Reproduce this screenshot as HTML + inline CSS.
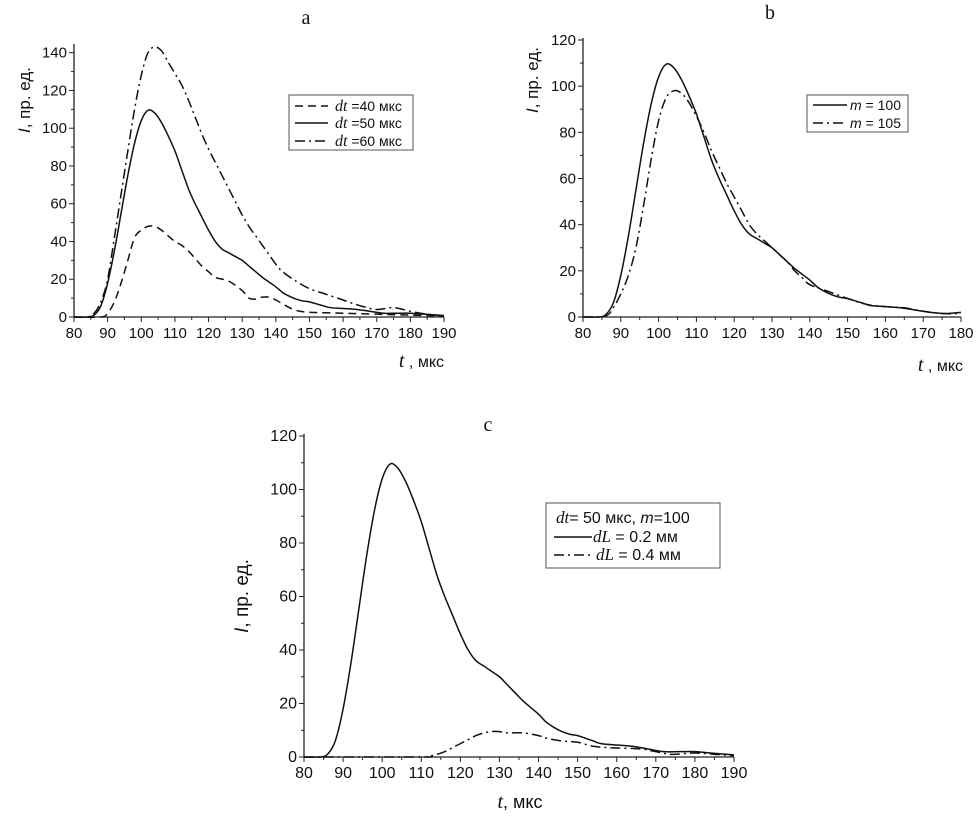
<!DOCTYPE html>
<html><head><meta charset="utf-8"><style>
body{margin:0;background:#fff;}
svg text{font-family:"Liberation Sans",Arial,sans-serif;fill:#111;}
.serif{font-family:"Liberation Serif",serif !important;}
</style></head><body>
<svg id="fig" width="978" height="817" viewBox="0 0 978 817" xmlns="http://www.w3.org/2000/svg"></svg>
<script>
// ---- data ----
const tDt50=[80,84,86,88,90,92,94,96,98,100,102,104,106,108,110,112,114,116,118,120,122,124,126,128,130,132,134,136,138,140,142,144,146,148,150,152,154,156,160,164,168,172,176,180,184,190];
const vDt50=[0,0,1,6,18,35,55,75,92,104,109.5,108,103,96,88,78,68,60,53,46,40,36,34,32,30,27,24,21,18.5,16,13,11,9.5,8.5,8,7,6,5,4.5,4,3,2,2,2,1.5,0.8];
const tDt60=[80,84,86,88,90,92,94,96,98,100,102,104,106,108,110,112,114,116,118,120,122,124,126,128,130,132,134,136,138,140,142,146,150,155,160,165,170,175,180,185,190];
const vDt60=[0,0,2,8,20,42,65,88,110,128,140,143,141,135,129,123,115,106,97,89,82,75,68,61,54,48,43,38,33,28,24,19,15,12,9,6,4,5,3,1.5,0.5];
const tDt40=[80,88,90,92,94,96,98,100,102,104,106,108,110,112,114,116,118,120,122,126,130,132,134,136,138,140,142,144,146,150,160,170,180,190];
const vDt40=[0,0,2,8,18,30,42,46,48,48,46,43,40,38,35,31,27,24,21,19,14,10,9.5,10.5,10.5,9,7,5,3.5,2.5,2,1.5,1,0.5];
const tM100=[80,84,86,88,90,92,94,96,98,100,102,104,106,108,110,112,114,116,118,120,122,124,126,128,130,132,134,136,138,140,142,144,146,148,150,152,154,156,160,164,168,172,176,180];
const vM100=[0,0,1,6,18,35,55,75,92,104,109.5,108,103,96,88,78,68,60,53,46,40,36,34,32,30,27,24,21,18.5,16,13,11,9.5,8.5,8,7,6,5,4.5,4,3,2,1.5,2];
const tM105=[80,86,88,90,92,94,96,98,100,102,104,106,108,110,112,114,116,118,120,122,124,126,128,130,132,134,136,138,140,145,150,155,160,165,170,175,180];
const vM105=[0,0.5,4,10,18,30,48,68,85,95,98,97,93,87,80,72,65,58,52,46,40,36,33,30,27,24,20,17,14,11,8,5.5,4.5,4,2.5,1.5,1.5];
const tDL4=[80,110,112,114,116,118,120,122,124,126,128,130,132,136,140,142,146,150,154,158,166,170,174,180,185,190];
const vDL4=[0,0,0.3,1,2,3.5,5,6.5,8,9,9.5,9.5,9,9,8,7,6,5.5,4,3.5,3,2,1,1.5,1,0.5];
const xTicksA=[80,90,100,110,120,130,140,150,160,170,180,190];
const yTicksA=[0,20,40,60,80,100,120,140];
const xTicksB=[80,90,100,110,120,130,140,150,160,170,180];
const yTicksB=[0,20,40,60,80,100,120];

const NS="http://www.w3.org/2000/svg";
const svg=document.getElementById('fig');
function mk(tag,attrs,parent){const e=document.createElementNS(NS,tag);for(const k in attrs)e.setAttribute(k,attrs[k]);(parent||svg).appendChild(e);return e;}
function smooth(pts){let d=`M${pts[0][0]},${pts[0][1]}`;for(let i=0;i<pts.length-1;i++){const p0=pts[i-1]||pts[i],p1=pts[i],p2=pts[i+1],p3=pts[i+2]||p2;
const c1=[p1[0]+(p2[0]-p0[0])/6,p1[1]+(p2[1]-p0[1])/6],c2=[p2[0]-(p3[0]-p1[0])/6,p2[1]-(p3[1]-p1[1])/6];d+=`C${c1[0]},${c1[1]} ${c2[0]},${c2[1]} ${p2[0]},${p2[1]}`;}return d;}
function panel(cfg){
  const g=mk('g',{});
  
  
  const X=v=>cfg.x0+(v-cfg.xmin)/(cfg.xmax-cfg.xmin)*(cfg.x1-cfg.x0);
  const Y=v=>cfg.y0-(v-cfg.ymin)/(cfg.ymax-cfg.ymin)*(cfg.y0-cfg.y1);
  const ax=mk('path',{d:`M${cfg.x0},${cfg.ytop}V${cfg.y0}H${cfg.x1}`,stroke:'#222','stroke-width':1.3,fill:'none'},g);
  
  
  const step=cfg.xt[1]-cfg.xt[0];
  for(let v=cfg.xmin;v<=cfg.xmax+0.01;v+=step/2){const maj=Math.abs((v-cfg.xmin)%step)<0.01;mk('line',{x1:X(v),x2:X(v),y1:cfg.y0,y2:cfg.y0+(maj?5:3),stroke:'#222'},g);}
  cfg.xt.forEach(v=>{const t=mk('text',{x:X(v),y:cfg.y0+21,'text-anchor':'middle','font-size':cfg.fs},g);t.textContent=v;
    
    });
  const ys=cfg.yt[1]-cfg.yt[0];
  for(let v=cfg.ymin;v<=cfg.ymax+0.01;v+=ys/2){const maj=Math.abs(v%ys)<0.01;mk('line',{x1:cfg.x0,x2:cfg.x0-(maj?5:3),y1:Y(v),y2:Y(v),stroke:'#222'},g);}
  cfg.yt.forEach(v=>{const t=mk('text',{x:cfg.x0-7,y:Y(v)+5,'text-anchor':'end','font-size':cfg.fs},g);t.textContent=v;
    
    });
  cfg.series.forEach(s=>{const pts=s.t.map((t,i)=>[X(t),Y(s.v[i])]);
    const p=mk('path',{d:smooth(pts),fill:'none',stroke:'#111','stroke-width':1.5,'stroke-dasharray':s.dash||'none'},g);
    
    });
}
panel({name:'panel-a',x0:74,x1:444,y0:317,y1:52.7,ytop:44,xmin:80,xmax:190,ymin:0,ymax:140,xt:xTicksA,yt:yTicksA,fs:15,
 series:[{t:tDt40,v:vDt40,dash:'8,5',name:'line-dt40'},{t:tDt50,v:vDt50,name:'line-dt50'},{t:tDt60,v:vDt60,dash:'10,4,2,4',name:'line-dt60'}]});
panel({name:'panel-b',x0:583,x1:961,y0:317,y1:40,ytop:38,xmin:80,xmax:180,ymin:0,ymax:120,xt:xTicksB,yt:yTicksB,fs:15,
 series:[{t:tM100,v:vM100,name:'line-m100'},{t:tM105,v:vM105,dash:'10,4,2,4',name:'line-m105'}]});
panel({name:'panel-c',x0:304,x1:734,y0:757,y1:436,ytop:434,xmin:80,xmax:190,ymin:0,ymax:120,xt:xTicksA,yt:yTicksB,fs:16,
 series:[{t:tDt50,v:vDt50,name:'line-dL02'},{t:tDL4,v:vDL4,dash:'10,4,2,4',name:'line-dL04'}]});
</script>
<svg width="978" height="817" style="position:absolute;left:0;top:0" xmlns="http://www.w3.org/2000/svg">
<text class="serif" x="306" y="24" font-size="20" text-anchor="middle">a</text>
<text class="serif" x="770" y="19" font-size="20" text-anchor="middle">b</text>
<text class="serif" x="488" y="431" font-size="20" text-anchor="middle">c</text>
<text transform="translate(30,100) rotate(-90)" font-size="17" text-anchor="middle"><tspan font-style="italic">I</tspan>, пр. ед.</text>
<text transform="translate(538,80) rotate(-90)" font-size="17" text-anchor="middle"><tspan font-style="italic">I</tspan>, пр. ед.</text>
<text transform="translate(248,596) rotate(-90)" font-size="19" text-anchor="middle"><tspan font-style="italic">I</tspan>, пр. ед.</text>
<text x="444" y="367" font-size="16" text-anchor="end"><tspan font-style="italic" class="serif" font-size="20">t</tspan> , мкс</text>
<text x="963" y="371" font-size="16" text-anchor="end"><tspan font-style="italic" class="serif" font-size="20">t</tspan> , мкс</text>
<text x="520" y="808" font-size="18" text-anchor="middle"><tspan font-style="italic" class="serif" font-size="20">t</tspan>, мкс</text>
<g>
<rect x="289" y="95" width="124" height="55" fill="#fff" stroke="#555"/>
<line x1="295" x2="328" y1="106" y2="106" stroke="#111" stroke-width="1.5" stroke-dasharray="8,5"/>
<line x1="295" x2="328" y1="123" y2="123" stroke="#111" stroke-width="1.5"/>
<line x1="295" x2="328" y1="141" y2="141" stroke="#111" stroke-width="1.5" stroke-dasharray="10,4,2,4"/>
<text x="335" y="111" font-size="14"><tspan class="serif" font-style="italic" font-size="16">dt</tspan> =40 мкс</text>
<text x="335" y="128" font-size="14"><tspan class="serif" font-style="italic" font-size="16">dt</tspan> =50 мкс</text>
<text x="335" y="146" font-size="14"><tspan class="serif" font-style="italic" font-size="16">dt</tspan> =60 мкс</text>
</g>
<g>
<rect x="807" y="95" width="101" height="37" fill="#fff" stroke="#555"/>
<line x1="813" x2="847" y1="105" y2="105" stroke="#111" stroke-width="1.5"/>
<line x1="813" x2="847" y1="123" y2="123" stroke="#111" stroke-width="1.5" stroke-dasharray="10,4,2,4"/>
<text x="850" y="110" font-size="14"><tspan font-style="italic">m</tspan> = 100</text>
<text x="850" y="128" font-size="14"><tspan font-style="italic">m</tspan> = 105</text>
</g>
<g>
<rect x="546" y="503" width="174" height="65" fill="#fff" stroke="#555"/>
<text x="556" y="523" font-size="16"><tspan class="serif" font-style="italic" font-size="17">dt</tspan>=  50 мкс, <tspan font-style="italic">m</tspan>=100</text>
<line x1="554" x2="592" y1="537" y2="537" stroke="#111" stroke-width="1.5"/>
<line x1="554" x2="592" y1="555" y2="555" stroke="#111" stroke-width="1.5" stroke-dasharray="10,4,2,4"/>
<text x="593" y="542" font-size="16"><tspan class="serif" font-style="italic" font-size="17">dL</tspan> = 0.2 мм</text>
<text x="596" y="560" font-size="16"><tspan class="serif" font-style="italic" font-size="17">dL</tspan> = 0.4 мм</text>
</g>
</svg>
</body></html>
